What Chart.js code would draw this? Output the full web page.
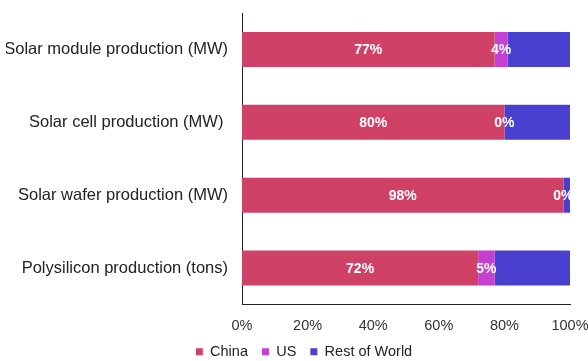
<!DOCTYPE html>
<html>
<head>
<meta charset="utf-8">
<script src="https://cdn.jsdelivr.net/npm/chart.js@4"></script>
<style>
  html, body { margin: 0; padding: 0; background: #fff; }
  #wrap { width: 588px; height: 361px; }
</style>
</head>
<body>
<div id="wrap"><canvas id="share-chart"></canvas></div>
<script>
// Categories and shares (%)
const categories = [
  "Solar module production (MW)",
  "Solar cell production (MW) ",
  "Solar wafer production (MW)",
  "Polysilicon production (tons)",
];
const chinaShare = [77, 80, 98, 72];
const usShare = [4, 0, 0, 5];
const restShare = [19, 20, 2, 23];

// Color scheme
const colors = {
  china: "rgb(208, 65, 104)",
  us: "rgb(197, 64, 208)",
  rest: "rgb(74, 64, 208)",
};

const fontFamily = "'Liberation Sans', Arial, sans-serif";

// Draws white percentage labels inside the China and US segments
const barLabels = {
  id: "barLabels",
  afterDatasetsDraw(chart) {
    const ctx = chart.ctx;
    ctx.save();
    ctx.fillStyle = "#ffffff";
    ctx.font = "bold 14px " + fontFamily;
    ctx.textAlign = "center";
    ctx.textBaseline = "middle";
    chart.data.datasets.forEach((dataset, i) => {
      if (!dataset.showLabels) return;
      const meta = chart.getDatasetMeta(i);
      meta.data.forEach((bar, j) => {
        const x = (bar.x + bar.base) / 2;
        ctx.fillText(dataset.data[j] + "%", x, bar.y + 1);
      });
    });
    ctx.restore();
  },
};

const ctx = document.getElementById("share-chart").getContext("2d");

new Chart(ctx, {
  type: "bar",
  data: {
    labels: categories,
    datasets: [
      {
        label: "China",
        data: chinaShare,
        backgroundColor: colors.china,
        showLabels: true,
      },
      {
        label: "US",
        data: usShare,
        backgroundColor: colors.us,
        showLabels: true,
      },
      {
        label: "Rest of World",
        data: restShare,
        backgroundColor: colors.rest,
        showLabels: false,
      },
    ],
  },
  options: {
    indexAxis: "y",
    responsive: true,
    maintainAspectRatio: false,
    animation: false,
    datasets: {
      bar: {
        categoryPercentage: 0.48,
        barPercentage: 1,
      },
    },
    layout: {
      padding: { top: 13, right: -14, left: 6, bottom: -8 },
    },
    scales: {
      x: {
        stacked: true,
        min: 0,
        max: 100,
        grid: { display: false, drawTicks: false },
        border: { display: true, color: "#222", width: 1 },
        ticks: {
          stepSize: 20,
          color: "#333",
          padding: 14,
          font: { family: fontFamily, size: 14.5, lineHeight: 1 },
          callback: (value) => value + "%",
        },
        // fixed axis box: room on the right for the "100%" label
        afterFit: (scale) => {
          scale.height = 26;
          scale.paddingLeft = 0;
          scale.paddingRight = 18;
        },
      },
      y: {
        stacked: true,
        grid: { display: false },
        border: { display: true, color: "#222", width: 1 },
        ticks: {
          color: "#222",
          padding: 6,
          font: { family: fontFamily, size: 16.5 },
        },
        afterFit: (scale) => {
          scale.width = 236;
          scale.paddingTop = 0;
          scale.paddingBottom = 0;
        },
      },
    },
    plugins: {
      legend: {
        position: "bottom",
        labels: {
          boxWidth: 7,
          boxHeight: 7,
          padding: 14,
          color: "#222",
          font: { family: fontFamily, size: 14.5 },
        },
      },
      tooltip: { enabled: false },
    },
  },
  plugins: [barLabels],
});
</script>
</body>
</html>
